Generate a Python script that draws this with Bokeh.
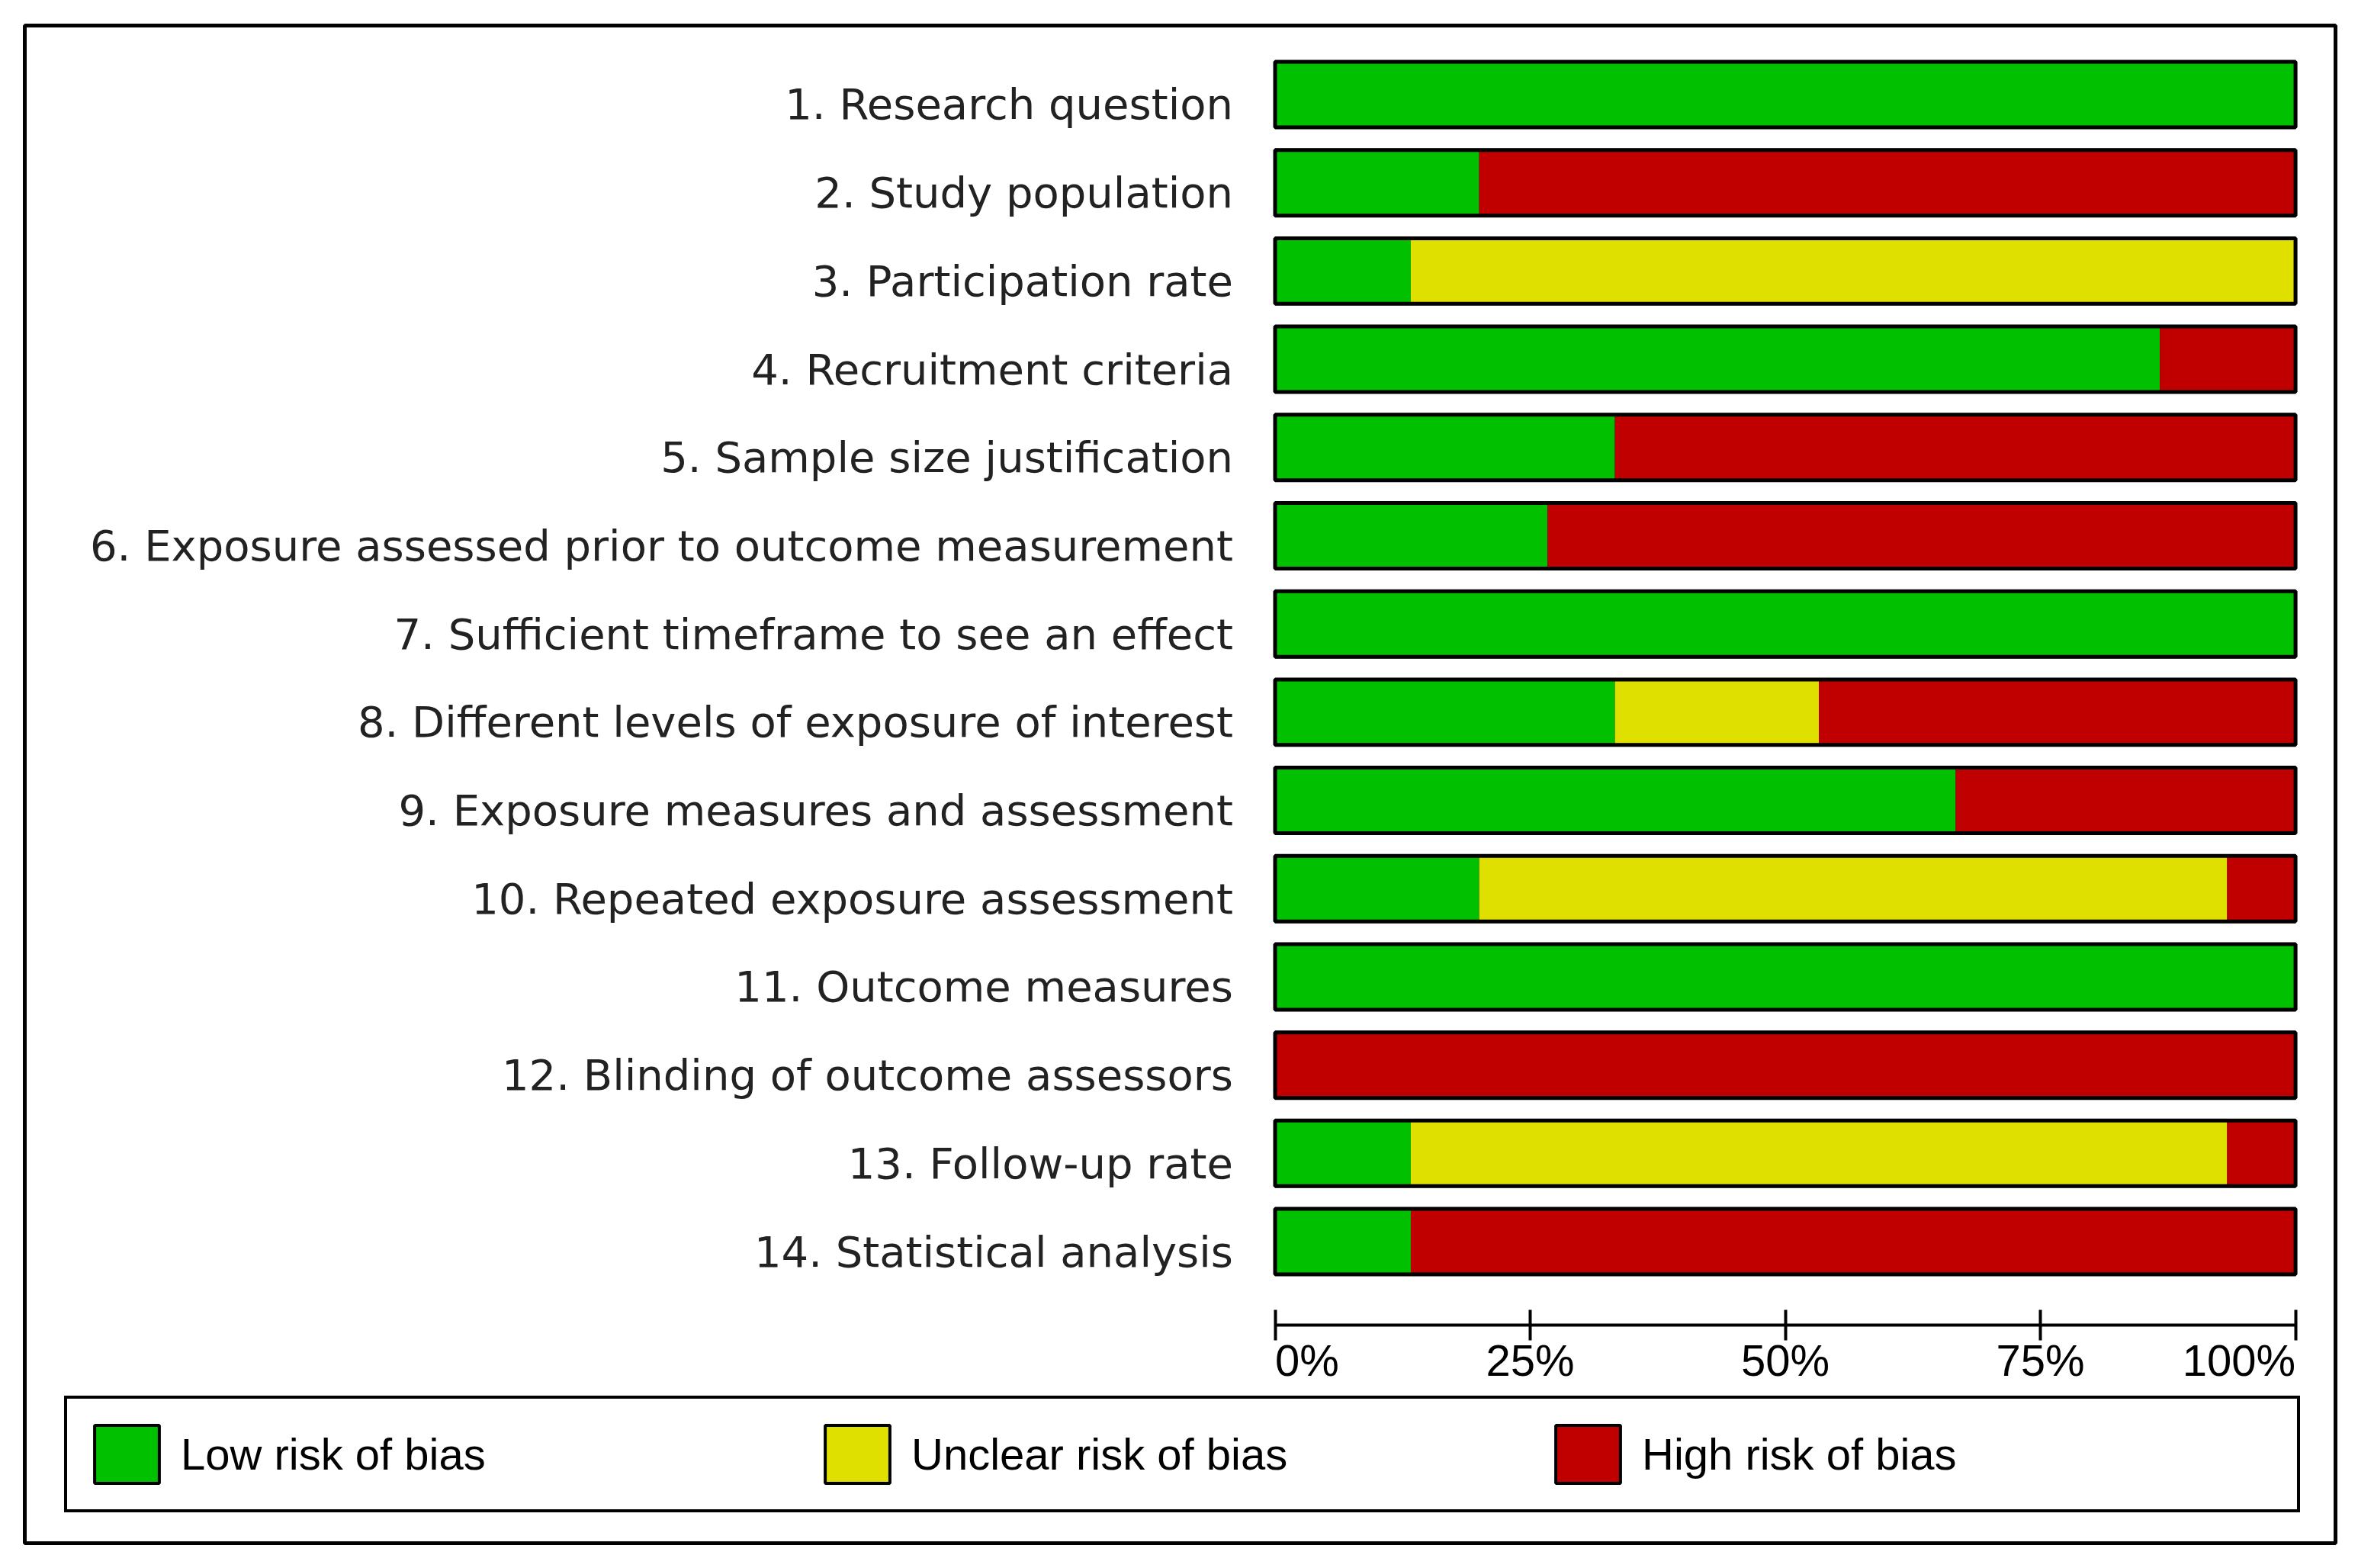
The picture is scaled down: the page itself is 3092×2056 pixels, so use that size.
from bokeh.plotting import figure
from bokeh.models import (Range1d, FixedTicker, ColumnDataSource, Legend, LegendItem)
from bokeh.core.properties import value, field
from bokeh.embed import file_html
from bokeh.resources import INLINE

# ---------------- data ----------------
domains = [
    "1. Research question",
    "2. Study population",
    "3. Participation rate",
    "4. Recruitment criteria",
    "5. Sample size justification",
    "6. Exposure assessed prior to outcome measurement",
    "7. Sufficient timeframe to see an effect",
    "8. Different levels of exposure of interest",
    "9. Exposure measures and assessment",
    "10. Repeated exposure assessment",
    "11. Outcome measures",
    "12. Blinding of outcome assessors",
    "13. Follow-up rate",
    "14. Statistical analysis",
]
low     = [100.0, 20.0, 13.3, 86.7, 33.3, 26.7, 100.0, 33.3, 66.7, 20.0, 100.0, 0.0, 13.3, 13.3]
unclear = [0.0,   0.0,  86.7, 0.0,  0.0,  0.0,  0.0,   20.0, 0.0,  73.3, 0.0,   0.0, 80.0, 0.0]
high    = [0.0,   80.0, 0.0,  13.3, 66.7, 73.3, 0.0,   46.7, 33.3, 6.7,  0.0,   100.0, 6.7, 86.7]
legend_labels = ["Low risk of bias", "Unclear risk of bias", "High risk of bias"]
x_ticks = [0, 25, 50, 75, 100]
x_tick_labels = ["0%", "25%", "50%", "75%", "100%"]

# ---------------- styles ----------------
GREEN, YELLOW, RED = "#00C000", "#E0E000", "#C00000"
colors = [GREEN, YELLOW, RED]
BAR_H = 0.743
BAR_SHIFT = 0.112
AXIS_Y = 0.166

n = len(domains)
rows = [n - i for i in range(n)]            # 14 .. 1, top to bottom
bar_y = [r + BAR_SHIFT for r in rows]
total = [a + b + c for a, b, c in zip(low, unclear, high)]

src = ColumnDataSource(dict(y=bar_y, low=low, unclear=unclear, high=high, total=total))

# the plot frame is the outer box of the chart
p = figure(width=3084, height=2048,
           x_range=Range1d(-122.53, 103.92), y_range=Range1d(-2.306, 14.894),
           output_backend="svg", toolbar_location=None,
           min_border_left=32, min_border_right=22,
           min_border_top=33, min_border_bottom=25)
p.outline_line_color = "black"
p.outline_line_width = 5
p.xgrid.visible = False
p.ygrid.visible = False
p.background_fill_color = "white"
p.border_fill_color = "white"

# segments with black edges (give the legend its bordered swatches) ...
leg_rs = p.hbar_stack(["low", "unclear", "high"], y="y", height=BAR_H, source=src,
                      fill_color=colors, line_color="black", line_width=4)
# ... covered by the same segments without edges (no separators inside a bar)
p.hbar_stack(["low", "unclear", "high"], y="y", height=BAR_H, source=src,
             fill_color=colors, line_color=None)
# black outline around each full bar
p.hbar(y="y", left=0, right="total", height=BAR_H, source=src,
       fill_color=None, line_color="black", line_width=5)

legend = Legend(items=[LegendItem(label=lab, renderers=[r]) for lab, r in zip(legend_labels, leg_rs)],
                orientation="horizontal", location=(52, 40))
legend.border_line_color = "black"
legend.border_line_width = 4
legend.border_line_alpha = 1.0
legend.background_fill_color = "white"
legend.background_fill_alpha = 1.0
legend.padding = 25
legend.spacing = 0
legend.margin = 0
legend.label_width = 834
legend.label_standoff = 18
legend.glyph_width = 106
legend.glyph_height = 95
legend.label_text_font = "Liberation Sans"
legend.label_text_font_size = "58px"
legend.label_text_color = "black"
p.add_layout(legend)

# x axis, drawn inside the frame
xa = p.xaxis[0]
xa.fixed_location = AXIS_Y
xa.ticker = FixedTicker(ticks=x_ticks)
xa.major_label_overrides = {t: "" for t in x_ticks}
xa.bounds = (0, 100)
xa.axis_line_width = 4
xa.axis_line_color = "black"
xa.major_tick_line_width = 4
xa.major_tick_line_color = "black"
xa.major_tick_in = 20
xa.major_tick_out = 20
xa.minor_tick_line_color = None

# tick labels: first left-aligned, last right-aligned, others centred (as in the source)
tick_align = ["left"] + ["center"] * (len(x_ticks) - 2) + ["right"]
tick_src = ColumnDataSource(dict(x=x_ticks, y=[AXIS_Y] * len(x_ticks),
                                 text=x_tick_labels, align=tick_align))
p.text(x="x", y="y", text="text", source=tick_src, text_align=field("align"),
       text_baseline="alphabetic", y_offset=46,
       text_font=value("Liberation Sans"), text_font_size="58px", text_color="black")

# y axis (domain labels), drawn inside the frame at x = 0
ya = p.yaxis[0]
ya.fixed_location = 0
ya.ticker = FixedTicker(ticks=rows)
ya.major_label_overrides = {r: d for r, d in zip(rows, domains)}
ya.axis_line_color = None
ya.major_tick_line_color = None
ya.minor_tick_line_color = None
ya.major_tick_in = 0
ya.major_tick_out = 0
ya.major_label_standoff = 55
ya.major_label_text_font = "DejaVu Sans"
ya.major_label_text_font_size = "56px"
ya.major_label_text_color = "#222222"

open("out.html", "w").write(file_html(p, INLINE))
